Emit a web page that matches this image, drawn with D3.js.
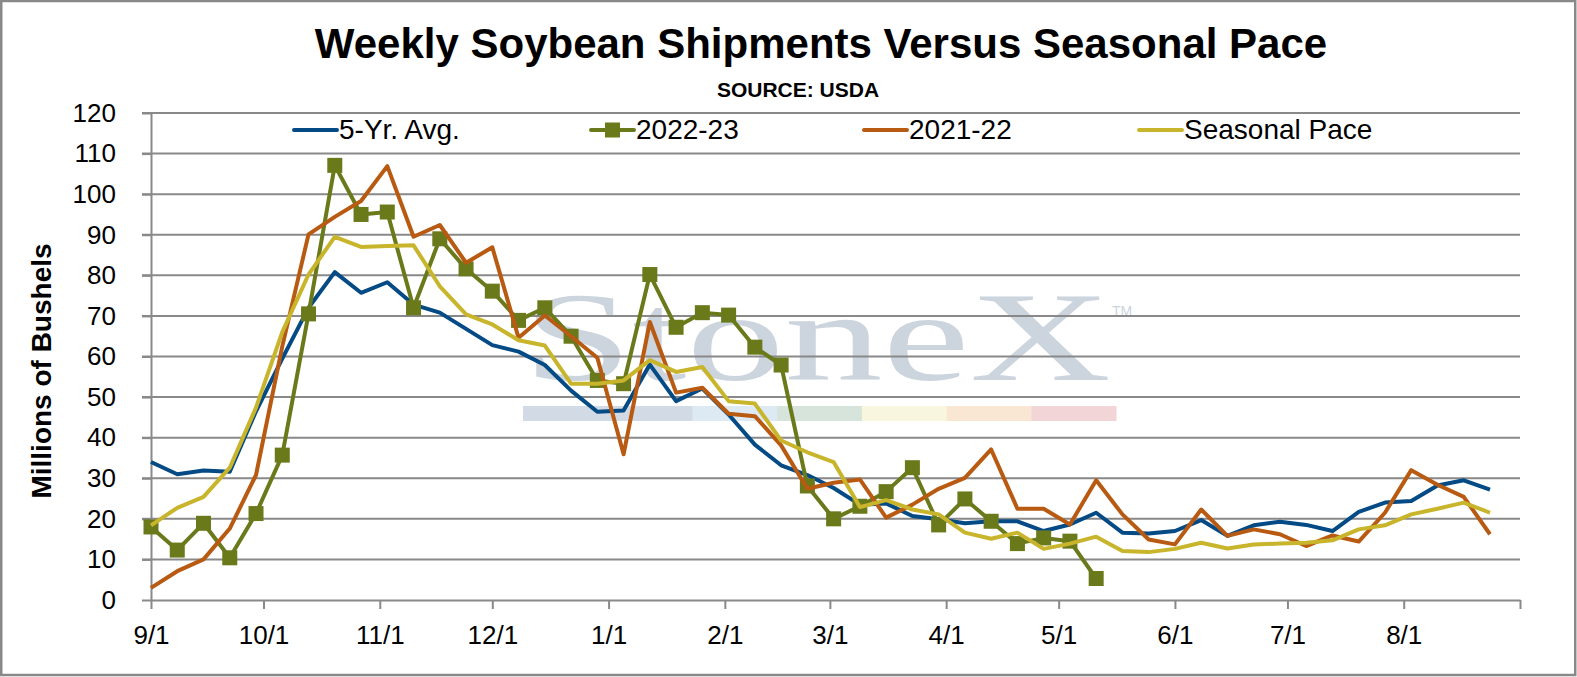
<!DOCTYPE html>
<html>
<head>
<meta charset="utf-8">
<script src="https://cdn.jsdelivr.net/npm/d3@7"></script>
<style>
  body { margin: 0; background: #fff; }
  svg { display: block; font-family: "Liberation Sans", Arial, sans-serif; }
</style>
</head>
<body>
<svg id="chart" width="1577" height="677"></svg>
<script>
// week ending dates of the marketing year
const weeks = [
  "2022-09-01", "2022-09-08", "2022-09-15", "2022-09-22", "2022-09-29",
  "2022-10-06", "2022-10-13", "2022-10-20", "2022-10-27", "2022-11-03",
  "2022-11-10", "2022-11-17", "2022-11-24", "2022-12-01", "2022-12-08",
  "2022-12-15", "2022-12-22", "2022-12-29", "2023-01-05", "2023-01-12",
  "2023-01-19", "2023-01-26", "2023-02-02", "2023-02-09", "2023-02-16",
  "2023-02-23", "2023-03-02", "2023-03-09", "2023-03-16", "2023-03-23",
  "2023-03-30", "2023-04-06", "2023-04-13", "2023-04-20", "2023-04-27",
  "2023-05-04", "2023-05-11", "2023-05-18", "2023-05-25", "2023-06-01",
  "2023-06-08", "2023-06-15", "2023-06-22", "2023-06-29", "2023-07-06",
  "2023-07-13", "2023-07-20", "2023-07-27", "2023-08-03", "2023-08-10",
  "2023-08-17", "2023-08-24"
];

const avg5 = [
  34.0, 31.0, 31.9, 31.6, 46.5, 59.5, 72.0, 80.8, 75.7, 78.3,
  72.8, 70.8, 66.8, 62.8, 61.2, 57.9, 51.6, 46.4, 46.7, 58.0,
  49.0, 52.1, 45.7, 38.3, 33.2, 30.8, 27.6, 23.5, 23.8, 20.7,
  19.9, 18.9, 19.4, 19.4, 17.0, 18.6, 21.5, 16.6, 16.4, 17.0,
  19.7, 15.8, 18.4, 19.3, 18.5, 17.0, 21.7, 24.0, 24.4, 28.2,
  29.5, 27.2
];

const y2223 = [
  18.0, 12.3, 18.9, 10.4, 21.3, 35.7, 70.5, 107.1, 95.0, 95.6,
  72.0, 89.0, 81.6, 76.1, 68.9, 72.0, 65.0, 54.1, 53.3, 80.2,
  67.2, 70.8, 70.2, 62.3, 57.9, 28.1, 20.0, 23.1, 26.7, 32.6,
  18.5, 24.9, 19.4, 13.9, 15.3, 14.5, 5.3
];

const y2122 = [
  3.0, 7.1, 10.0, 17.6, 30.8, 62.5, 90.1, 94.4, 98.3, 106.9,
  89.5, 92.4, 83.1, 86.9, 64.6, 70.1, 65.0, 59.7, 35.9, 68.5,
  51.1, 52.3, 45.9, 45.3, 38.1, 27.4, 28.9, 29.7, 20.3, 23.5,
  27.4, 30.1, 37.1, 22.5, 22.5, 18.6, 29.5, 21.1, 14.9, 13.7,
  22.3, 15.8, 17.4, 16.2, 13.3, 15.9, 14.4, 21.5, 32.0, 28.4,
  25.4, 16.2
];

const seasonal = [
  18.4, 22.7, 25.4, 32.6, 47.4, 66.0, 80.2, 89.5, 87.0, 87.2,
  87.4, 77.3, 70.4, 67.9, 64.0, 62.7, 53.3, 53.3, 54.1, 59.1,
  56.2, 57.4, 49.0, 48.4, 39.3, 36.4, 34.0, 22.9, 24.6, 22.3,
  21.1, 16.6, 15.1, 16.6, 12.6, 13.9, 15.6, 12.1, 11.8, 12.6,
  14.1, 12.7, 13.7, 13.9, 14.1, 14.7, 17.4, 18.4, 21.1, 22.5,
  24.0, 21.5
];

const seriesNames = ["5-Yr. Avg.", "2022-23", "2021-22", "Seasonal Pace"];
const seriesColors = ["#044a85", "#6a7a1b", "#b85a11", "#c8b52c"];

const svg = d3.select("#chart");
const parse = d3.timeParse("%Y-%m-%d");
const dates = weeks.map(parse);

const x = d3.scaleTime()
  .domain([parse("2022-09-01"), parse("2023-09-01")])
  .range([151, 1520]);

const y = d3.scaleLinear()
  .domain([0, 120])
  .range([600, 113]);

// Rahmen um das ganze Chart
svg.append("rect")
  .attr("x", 1.25).attr("y", 1)
  .attr("width", 1574).attr("height", 674)
  .attr("fill", "#fff")
  .attr("stroke", "#898989")
  .attr("stroke-width", 2.5);

// watermark
const wm = svg.append("g").attr("class", "watermark");
wm.append("text")
  .attr("x", 523)
  .attr("y", 380)
  .attr("textLength", 588)
  .attr("lengthAdjust", "spacingAndGlyphs")
  .style("font-family", "'Liberation Serif', 'Times New Roman', serif")
  .style("font-size", "126px")
  .attr("fill", "#ccd4de")
  .text("StoneX");
wm.append("text")
  .attr("x", 1112)
  .attr("y", 316)
  .style("font-size", "14px")
  .attr("fill", "#ccd4de")
  .text("TM");
const barColors = ["#d2dbe5", "#d2dbe5", "#ddeaf4", "#d6e4dc", "#f8f6df", "#f9e7d3", "#f2d5d7"];
const barX = d3.scaleBand().domain(d3.range(barColors.length)).range([523, 1116]);
wm.selectAll("rect")
  .data(barColors)
  .enter()
  .append("rect")
  .attr("x", (d, i) => barX(i))
  .attr("y", 406)
  .attr("width", barX.bandwidth() + 0.5)
  .attr("height", 15)
  .attr("fill", d => d);

// Gitterlinien
svg.append("g")
  .selectAll("line")
  .data(y.ticks(12).filter(v => v > 0))
  .enter()
  .append("line")
  .attr("x1", 142).attr("x2", 1520)
  .attr("y1", d => y(d)).attr("y2", d => y(d))
  .attr("stroke", "#898989")
  .attr("stroke-width", 2);

// axes
const monthTicks = d3.timeMonth.range(parse("2022-09-01"), parse("2023-09-02"));
const fmt = d3.timeFormat("%-m/%-d");

const xAxis = svg.append("g")
  .attr("transform", "translate(0,600)")
  .call(d3.axisBottom(x)
    .tickValues(monthTicks)
    .tickFormat((d, i) => i < 12 ? fmt(d) : "")
    .tickSizeInner(9)
    .tickSizeOuter(0)
    .tickPadding(17));

const yAxis = svg.append("g")
  .attr("transform", "translate(151,0)")
  .call(d3.axisLeft(y)
    .ticks(12)
    .tickSizeInner(9)
    .tickSizeOuter(0)
    .tickPadding(26));

[xAxis, yAxis].forEach(a => {
  a.selectAll("path, line").attr("stroke", "#898989").attr("stroke-width", 2);
  a.selectAll("text")
    .attr("fill", "#000")
    .style("font-family", "'Liberation Sans', Arial, sans-serif")
    .style("font-size", "26px");
});

// Achsentitel
svg.append("text")
  .attr("transform", "translate(41,371) rotate(-90)")
  .attr("text-anchor", "middle")
  .attr("dominant-baseline", "central")
  .style("font-size", "28px")
  .style("font-weight", "bold")
  .text("Millions of Bushels");

// Titel
svg.append("text")
  .attr("x", 821).attr("y", 58)
  .attr("text-anchor", "middle")
  .style("font-size", "42px")
  .style("font-weight", "bold")
  .text("Weekly Soybean Shipments Versus Seasonal Pace");

svg.append("text")
  .attr("x", 798).attr("y", 97)
  .attr("text-anchor", "middle")
  .style("font-size", "21px")
  .style("font-weight", "bold")
  .text("SOURCE: USDA");

// Linien
const line = d3.line()
  .x((d, i) => x(dates[i]))
  .y(d => y(d));

const allSeries = [avg5, y2223, y2122, seasonal];

allSeries.forEach((vals, s) => {
  svg.append("path")
    .datum(vals)
    .attr("d", line)
    .attr("fill", "none")
    .attr("stroke", seriesColors[s])
    .attr("stroke-width", 4)
    .attr("stroke-linejoin", "round");

  if (s === 1) {
    svg.append("g")
      .selectAll("rect")
      .data(vals)
      .enter()
      .append("rect")
      .attr("x", (d, i) => x(dates[i]) - 7.5)
      .attr("y", d => y(d) - 7.5)
      .attr("width", 15)
      .attr("height", 15)
      .attr("fill", seriesColors[s]);
  }
});

// Legende
const legendX = [294, 591, 864, 1139];
const legend = svg.append("g").attr("class", "legend");
seriesNames.forEach((name, i) => {
  const row = legend.append("g").attr("transform", `translate(${legendX[i]},130)`);
  row.append("line")
    .attr("x1", 0).attr("x2", 43)
    .attr("stroke", seriesColors[i])
    .attr("stroke-width", 4)
    .attr("stroke-linecap", "round");
  if (i === 1) {
    row.append("rect")
      .attr("x", 14).attr("y", -7.5)
      .attr("width", 15).attr("height", 15)
      .attr("fill", seriesColors[i]);
  }
  row.append("text")
    .attr("x", 45).attr("y", 9)
    .style("font-size", "28px")
    .text(name);
});
</script>
</body>
</html>
